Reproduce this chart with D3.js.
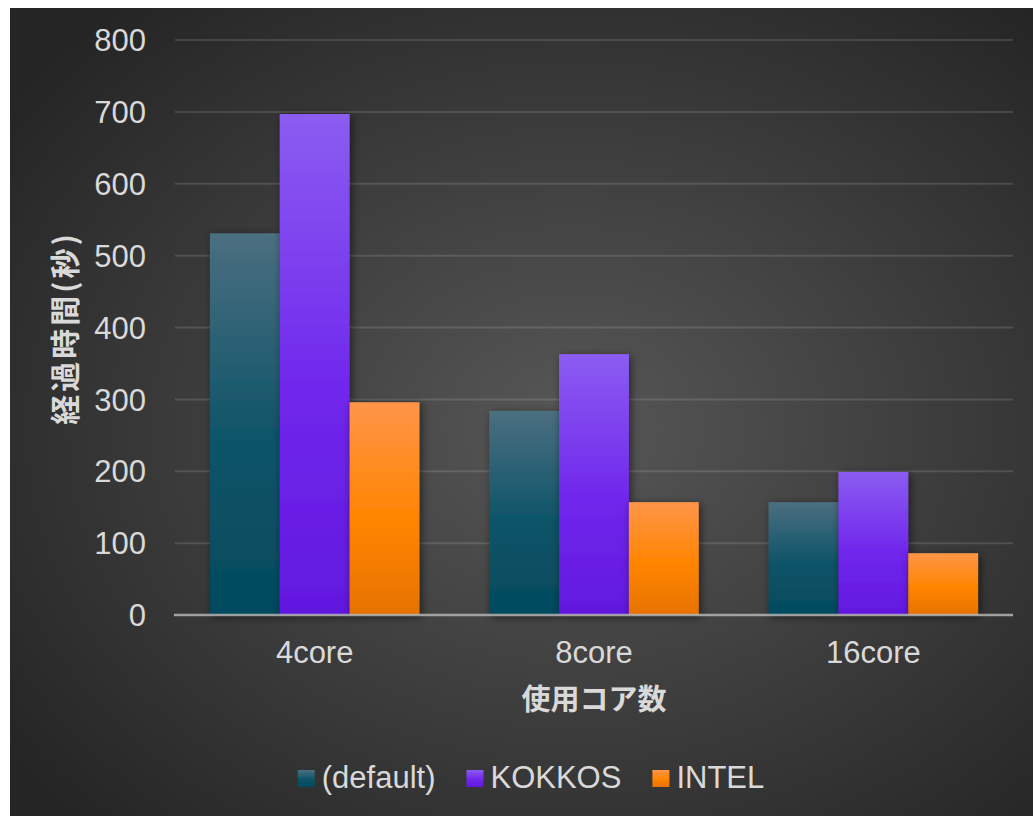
<!DOCTYPE html>
<html><head><meta charset="utf-8">
<script src="https://cdn.jsdelivr.net/npm/d3@7"></script>
<style>
html,body{margin:0;padding:0;background:#fff;}
svg{display:block;}
</style></head>
<body>
<script>
const categories = ["4core", "8core", "16core"];
const seriesNames = ["(default)", "KOKKOS", "INTEL"];
const defaultValues = [531, 284, 157];
const kokkosValues = [697, 363, 199];
const intelValues = [296, 157, 86];
const yTicks = [0, 100, 200, 300, 400, 500, 600, 700, 800];
const xTitle = "使用コア数";
const yTitle = "経過時間(秒)";

const series = [
  {name: seriesNames[0], values: defaultValues, stops: ["#4b6f80", "#0d5368", "#044a5e"]},
  {name: seriesNames[1], values: kokkosValues, stops: ["#8b5cf1", "#7027ec", "#6118df"]},
  {name: seriesNames[2], values: intelValues, stops: ["#ff9549", "#ff8500", "#e67200"]}
];

const W = 1033, H = 816;
const svg = d3.select("body").append("svg").attr("width", W).attr("height", H);
const defs = svg.append("defs");

const bg = defs.append("radialGradient").attr("id", "bg")
  .attr("cx", "55%").attr("cy", "52%").attr("r", "68%");
bg.append("stop").attr("offset", "0%").attr("stop-color", "#575757");
bg.append("stop").attr("offset", "100%").attr("stop-color", "#252525");

series.forEach((s, i) => {
  const g = defs.append("linearGradient").attr("id", "g" + i)
    .attr("x1", 0).attr("y1", 0).attr("x2", 0).attr("y2", 1);
  g.append("stop").attr("offset", "0%").attr("stop-color", s.stops[0]);
  g.append("stop").attr("offset", "55%").attr("stop-color", s.stops[1]);
  g.append("stop").attr("offset", "100%").attr("stop-color", s.stops[2]);
});

const f = defs.append("filter").attr("id", "shadow")
  .attr("x", "-20%").attr("y", "-20%").attr("width", "150%").attr("height", "150%");
f.append("feDropShadow").attr("dx", 2).attr("dy", 2).attr("stdDeviation", 4)
  .attr("flood-color", "#000").attr("flood-opacity", 0.55);

svg.append("rect").attr("x", 10).attr("y", 8).attr("width", W - 10).attr("height", H - 8)
  .attr("fill", "url(#bg)");

const plot = {left: 175, right: 1013, top: 40, bottom: 615};
const y = d3.scaleLinear().domain([0, 800]).range([plot.bottom, plot.top]);
const x = d3.scaleBand().domain(categories).range([plot.left, plot.right]).paddingInner(0).paddingOuter(0);
const inner = d3.scaleBand().domain(d3.range(series.length))
  .range([x.bandwidth() * 0.125, x.bandwidth() * 0.875]).padding(0);

const latin = "'Liberation Sans', Arial, sans-serif";
const cjk = "'Noto Sans CJK JP', sans-serif";
const txt = "#d9d9d9";

// gridlines
svg.append("g").selectAll("line").data(yTicks.filter(t => t > 0)).join("line")
  .attr("x1", plot.left).attr("x2", plot.right)
  .attr("y1", d => y(d)).attr("y2", d => y(d))
  .attr("stroke", "#ffffff").attr("stroke-opacity", 0.13).attr("stroke-width", 2);

// bars
const gBars = svg.append("g");
series.forEach((s, i) => {
  gBars.append("g").attr("filter", "url(#shadow)").selectAll("rect").data(s.values).join("rect")
    .attr("x", (d, j) => x(categories[j]) + inner(i))
    .attr("width", inner.bandwidth())
    .attr("y", d => y(d))
    .attr("height", d => y(0) - y(d))
    .attr("fill", "url(#g" + i + ")");
});

// axis line
svg.append("line").attr("x1", plot.left - 1).attr("x2", plot.right)
  .attr("y1", y(0)).attr("y2", y(0))
  .attr("stroke", "#b4b4b4").attr("stroke-opacity", 0.85).attr("stroke-width", 2.5);

// y tick labels
svg.append("g").selectAll("text").data(yTicks).join("text")
  .attr("x", 146).attr("y", d => y(d)).attr("dy", "0.36em")
  .attr("text-anchor", "end").attr("font-family", latin).attr("font-size", 31)
  .attr("fill", txt).text(d => d);

// x tick labels
svg.append("g").selectAll("text").data(categories).join("text")
  .attr("x", d => x(d) + x.bandwidth() / 2).attr("y", 663)
  .attr("text-anchor", "middle").attr("font-family", latin).attr("font-size", 31)
  .attr("fill", txt).text(d => d);

// axis titles
svg.append("text").attr("x", x(categories[1]) + x.bandwidth() / 2).attr("y", 710)
  .attr("text-anchor", "middle").attr("font-family", cjk).attr("font-weight", "bold")
  .attr("font-size", 29).attr("fill", txt).text(xTitle);

svg.append("text").attr("transform", "translate(65,328) rotate(-90)")
  .attr("text-anchor", "middle").attr("dy", "0.36em").attr("font-family", cjk).attr("font-weight", "bold")
  .attr("font-size", 30).attr("letter-spacing", 3).attr("fill", txt).text(yTitle);

// legend
const leg = svg.append("g");
const items = series.map((s, i) => {
  const g = leg.append("g");
  g.append("rect").attr("x", 0).attr("y", -18).attr("width", 17).attr("height", 17)
    .attr("fill", "url(#g" + i + ")");
  const t = g.append("text").attr("x", 24).attr("y", 0)
    .attr("font-family", latin).attr("font-size", 31).attr("fill", txt).text(s.name);
  return {g, w: 24 + t.node().getComputedTextLength()};
});
const gap = 31;
const total = d3.sum(items, d => d.w) + gap * (items.length - 1);
let cx = 531 - total / 2;
items.forEach(it => { it.g.attr("transform", `translate(${cx},788)`); cx += it.w + gap; });
</script>
</body></html>
